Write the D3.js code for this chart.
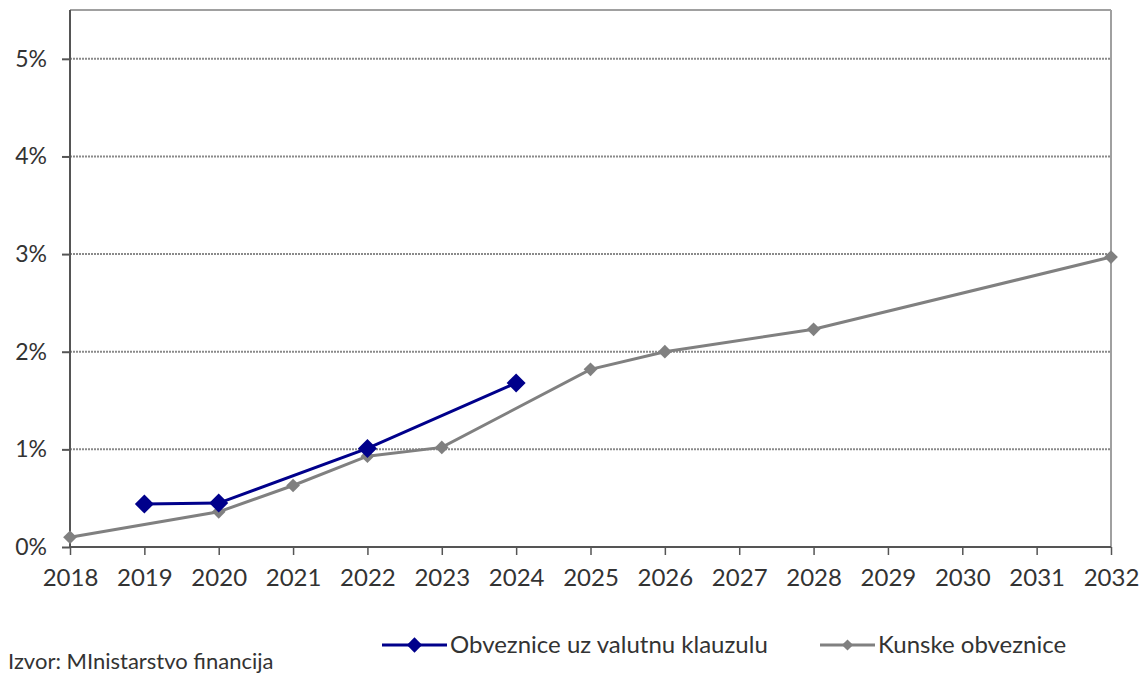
<!DOCTYPE html>
<html>
<head>
<meta charset="utf-8">
<script src="https://cdn.jsdelivr.net/npm/d3@7"></script>
<style>
  body { margin: 0; background: #fff; }
  svg text { font-family: Lato, "Open Sans", sans-serif; fill: #333; }
</style>
</head>
<body>
<svg id="chart" width="1148" height="673"></svg>
<script>
// years for the axis
var years = [2018, 2019, 2020, 2021, 2022, 2023, 2024, 2025, 2026, 2027, 2028, 2029, 2030, 2031, 2032];
// y ticks in percent
var yTicks = [0, 1, 2, 3, 4, 5];

// Obveznice uz valutnu klauzulu
var fxYears = [2019, 2020, 2022, 2024];
var fxValues = [0.44, 0.45, 1.01, 1.68];

// Kunske obveznice
var hrkYears = [2018, 2020, 2021, 2022, 2023, 2025, 2026, 2028, 2032];
var hrkValues = [0.10, 0.36, 0.63, 0.93, 1.02, 1.82, 2.00, 2.23, 2.97];

var seriesNames = ["Obveznice uz valutnu klauzulu", "Kunske obveznice"];
var sourceText = "Izvor: MInistarstvo financija";

var svg = d3.select("#chart");
var mLeft = 70, mRight = 1111, mTop = 10, mBottom = 547;

var x = d3.scaleLinear().domain([2018, 2032]).range([mLeft, mRight]);
var y = d3.scaleLinear().domain([0, 5.5]).range([mBottom, mTop]);

// gridlines
svg.append("g").selectAll("line").data(yTicks.slice(1)).enter().append("line")
  .attr("x1", mLeft).attr("x2", mRight)
  .attr("y1", function(d) { return y(d); }).attr("y2", function(d) { return y(d); })
  .attr("stroke", "#8a8a8a").attr("stroke-width", 2).attr("stroke-dasharray", "2,1");

// frame top + right
svg.append("line").attr("x1", mLeft).attr("x2", mRight).attr("y1", mTop).attr("y2", mTop)
  .attr("stroke", "#a0a0a0").attr("stroke-width", 2);
svg.append("line").attr("x1", mRight).attr("x2", mRight).attr("y1", mTop).attr("y2", mBottom)
  .attr("stroke", "#a0a0a0").attr("stroke-width", 2);

// y axis
var yAxis = svg.append("g").attr("transform", "translate(" + mLeft + ",0)")
  .call(d3.axisLeft(y).tickValues(yTicks).tickSize(8).tickPadding(15)
    .tickFormat(function(d) { return d + "%"; }));
yAxis.select(".domain").attr("stroke", "#555").attr("stroke-width", 2).attr("d", "M0," + mTop + "V" + mBottom);
yAxis.selectAll(".tick line").attr("stroke", "#555").attr("stroke-width", 2);
yAxis.selectAll("text").style("font-size", "23px").attr("fill", "#333");

// x axis
var xAxis = svg.append("g").attr("transform", "translate(0," + mBottom + ")")
  .call(d3.axisBottom(x).tickValues(years).tickSize(8).tickPadding(14).tickFormat(d3.format("d")));
xAxis.select(".domain").attr("stroke", "#555").attr("stroke-width", 2).attr("d", "M" + mLeft + ",0H" + mRight);
xAxis.selectAll(".tick line").attr("stroke", "#555").attr("stroke-width", 1.5);
xAxis.selectAll("text").style("font-size", "24px").attr("fill", "#333");

var line = d3.line().x(function(d) { return x(d[0]); }).y(function(d) { return y(d[1]); });
var diamond = d3.symbol().type(d3.symbolDiamond2);

function drawSeries(ys, vs, color, width, size) {
  var pts = ys.map(function(yr, i) { return [yr, vs[i]]; });
  svg.append("path").datum(pts).attr("d", line)
    .attr("fill", "none").attr("stroke", color).attr("stroke-width", width);
  svg.append("g").selectAll("path").data(pts).enter().append("path")
    .attr("d", diamond.size(size))
    .attr("transform", function(d) { return "translate(" + x(d[0]) + "," + y(d[1]) + ")"; })
    .attr("fill", color);
}
drawSeries(hrkYears, hrkValues, "#808080", 3, 120);
drawSeries(fxYears, fxValues, "#00008b", 3, 230);

// legend
var legend = [
  { name: seriesNames[0], color: "#00008b", x1: 382, x2: 447, tx: 450, size: 150 },
  { name: seriesNames[1], color: "#808080", x1: 820, x2: 875, tx: 878, size: 80 }
];
var lg = svg.append("g");
legend.forEach(function(l) {
  lg.append("line").attr("x1", l.x1).attr("x2", l.x2).attr("y1", 645).attr("y2", 645)
    .attr("stroke", l.color).attr("stroke-width", 3);
  lg.append("path").attr("d", diamond.size(l.size))
    .attr("transform", "translate(" + ((l.x1 + l.x2) / 2) + ",645)").attr("fill", l.color);
  lg.append("text").attr("x", l.tx).attr("y", 653).style("font-size", "24px").text(l.name);
});

svg.append("text").attr("x", 8).attr("y", 669).style("font-size", "22px").text(sourceText);
</script>
</body>
</html>
